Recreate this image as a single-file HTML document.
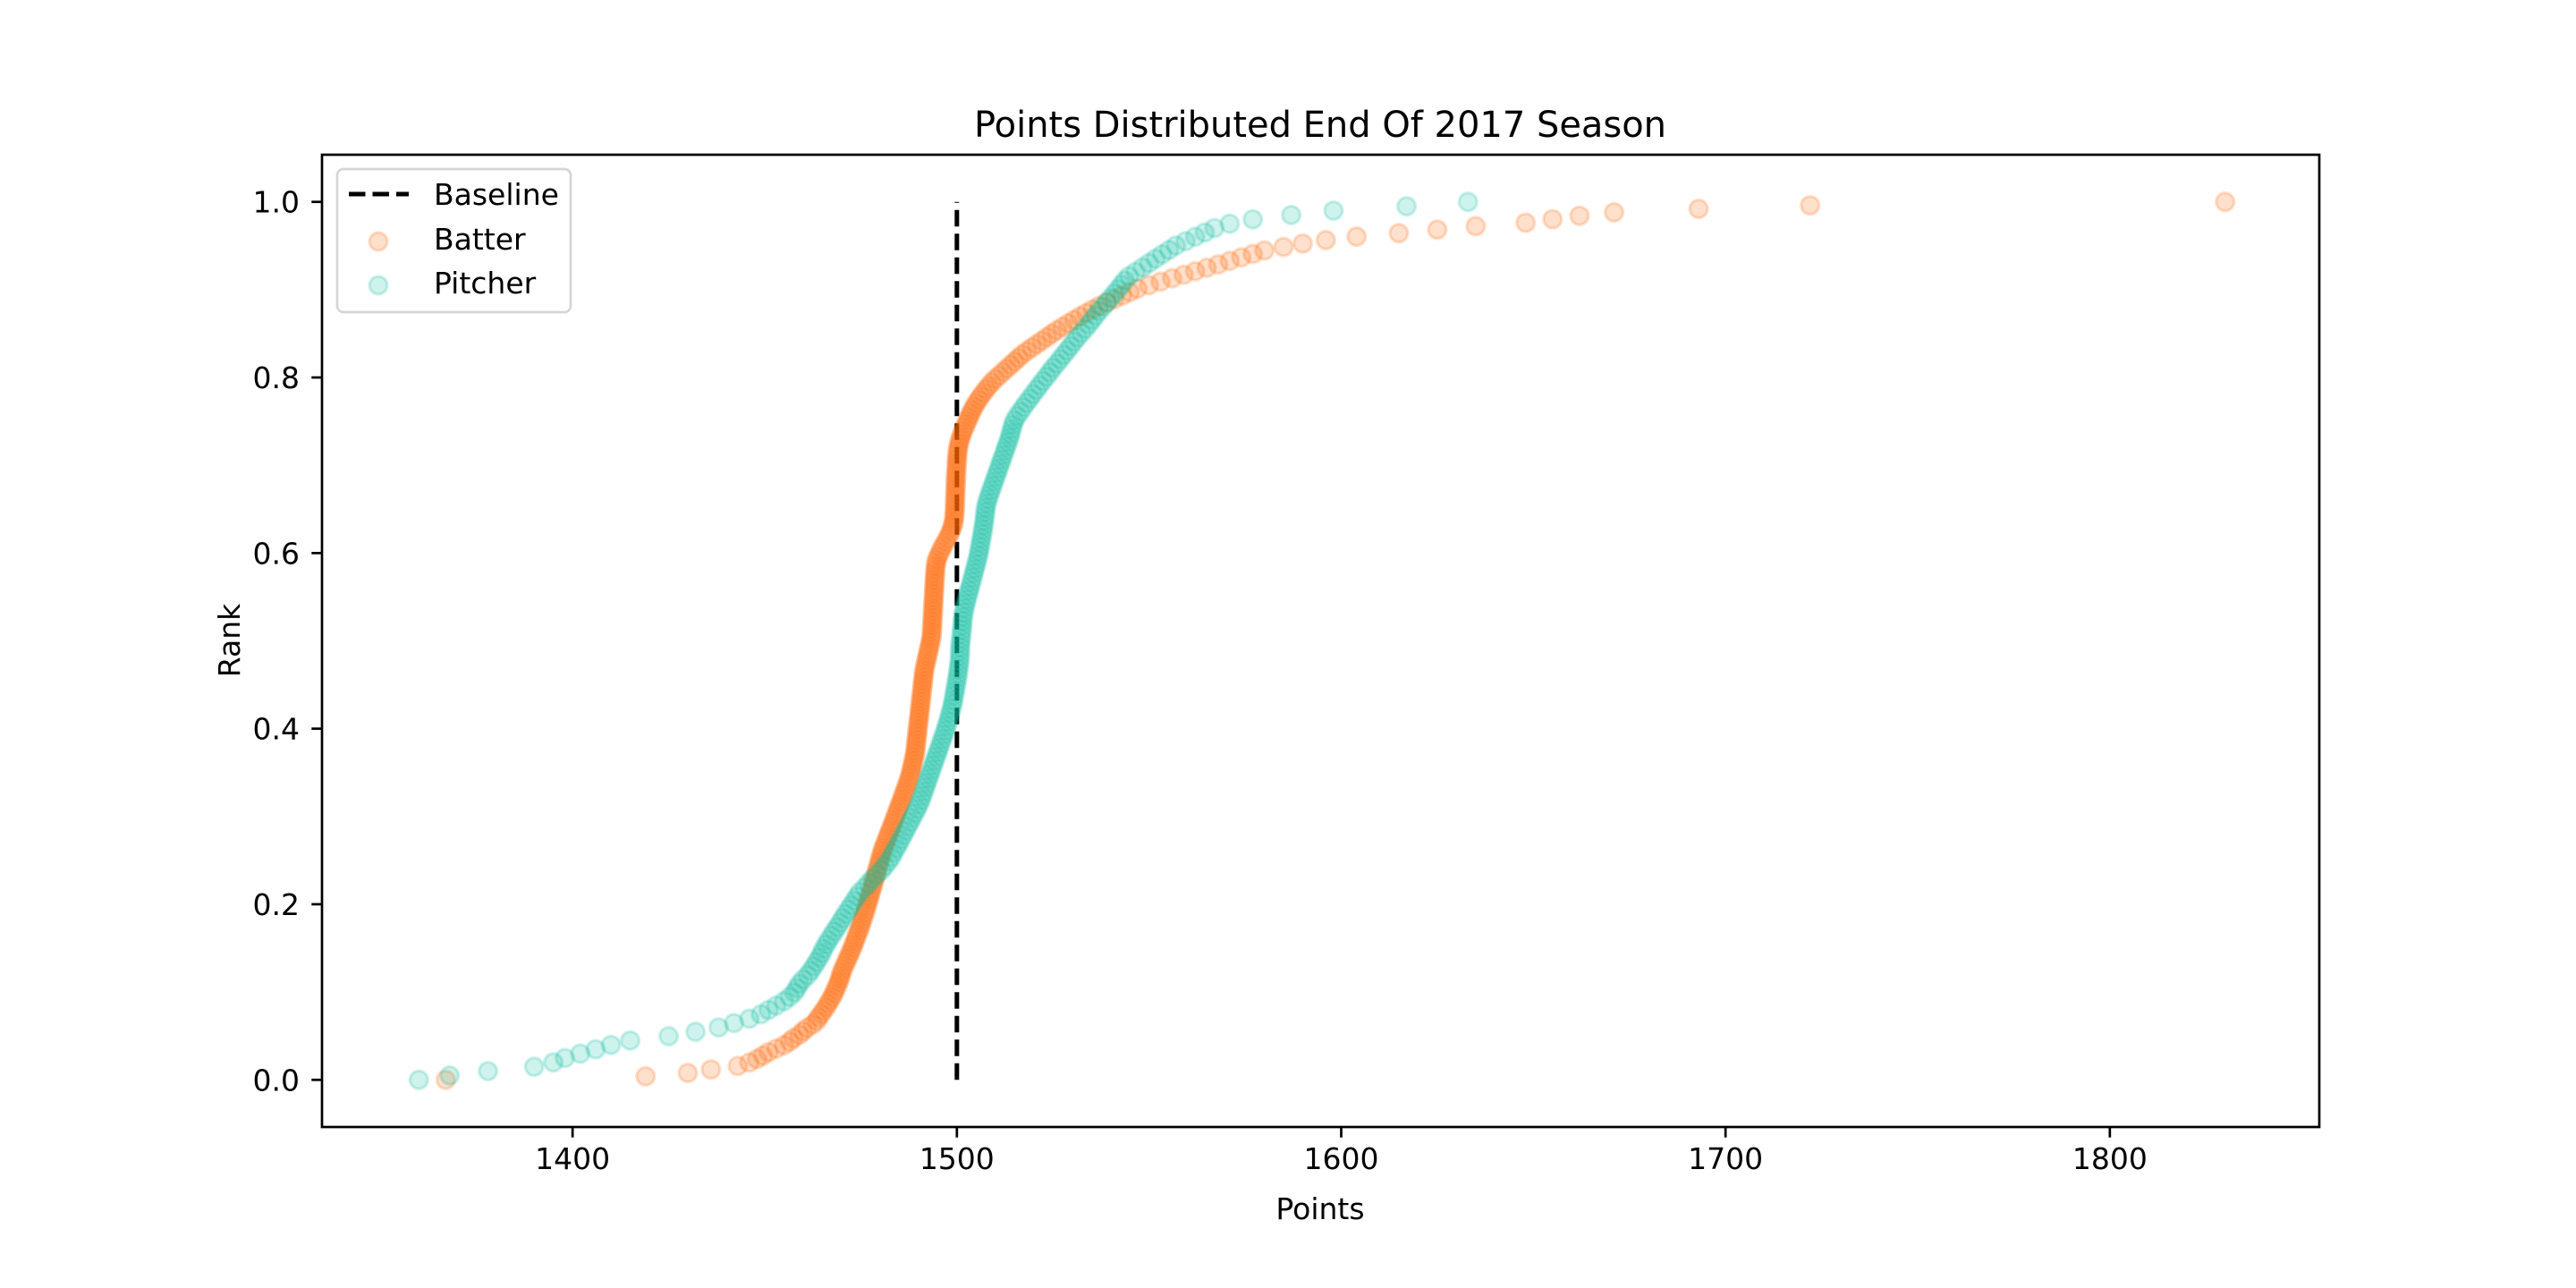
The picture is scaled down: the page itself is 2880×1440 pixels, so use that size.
<!DOCTYPE html>
<html><head><meta charset="utf-8"><style>
html,body{margin:0;padding:0;background:#fff;}
svg{display:block;font-family:"DejaVu Sans","Liberation Sans",sans-serif;}
</style></head><body>
<svg id="chart" width="2880" height="1440" viewBox="0 0 2880 1440" xmlns="http://www.w3.org/2000/svg">
<rect width="2880" height="1440" fill="#fff"/>
<text x="1476" y="153" font-size="40" text-anchor="middle" textLength="774" lengthAdjust="spacingAndGlyphs">Points Distributed End Of 2017 Season</text>
<g id="marks"></g>
<g id="axes"></g>
<text x="1476" y="1363" font-size="33" text-anchor="middle">Points</text>
<text x="0" y="0" font-size="33" text-anchor="middle" transform="translate(268,716) rotate(-90)">Rank</text>
<g>
<rect x="377" y="189" width="261" height="160" rx="7" fill="#fff" fill-opacity="0.8" stroke="#d6d6d6" stroke-width="2.7"/>
<line x1="390" y1="217" x2="457" y2="217" stroke="#000" stroke-width="5" stroke-dasharray="18.5,8"/>
<text x="485" y="229" font-size="33">Baseline</text>
<circle cx="423" cy="270" r="10" fill="#ff6600" fill-opacity="0.2" stroke="#ff6600" stroke-opacity="0.2" stroke-width="3.3"/>
<text x="485" y="279" font-size="33">Batter</text>
<circle cx="423" cy="319" r="10" fill="#0abf9f" fill-opacity="0.2" stroke="#0abf9f" stroke-opacity="0.2" stroke-width="3.3"/>
<text x="485" y="328" font-size="33">Pitcher</text>
</g>
</svg>
<script>
const xTicks = [1400, 1500, 1600, 1700, 1800];
const yTicks = [0.0, 0.2, 0.4, 0.6, 0.8, 1.0];
const yTickLabels = ["0.0", "0.2", "0.4", "0.6", "0.8", "1.0"];
const baselinePoints = 1500;
const batterPoints = [
1367,1419,1430,1436,1443,1446,1448,1449.5,1451,1453,1455,1456.5,1457.5,1459,1460,1461,1462.5,1463.5,1464,1464.7,1465.3,1466,1466.5,1467,1467.6,
1468,1468.4,1468.8,1469.2,1469.5,1469.8,1470,1470.4,1470.8,1471.2,1471.6,1472,1472.4,1472.8,1473.1,1473.5,1473.8,1474.1,1474.5,1474.8,1475.1,1475.4,1475.7,1476,1476.3,
1476.5,1476.8,1477.1,1477.3,1477.6,1477.9,1478.1,1478.4,1478.6,1478.9,1479.1,1479.4,1479.6,1479.9,1480.1,1480.4,1480.6,1480.9,1481.3,1481.6,1482,1482.3,1482.7,1483,1483.4,
1483.7,1484,1484.4,1484.7,1485,1485.4,1485.7,1486,1486.4,1486.7,1487,1487.3,1487.6,1487.9,1488.1,1488.3,1488.5,1488.7,1488.9,1489.1,1489.2,1489.3,1489.4,1489.5,1489.6,
1489.7,1489.8,1489.9,1490,1490.1,1490.2,1490.3,1490.4,1490.5,1490.6,1490.7,1490.8,1490.9,1491,1491.1,1491.2,1491.3,1491.4,1491.5,1491.7,1491.9,1492.1,1492.3,1492.5,1492.7,
1492.9,1493.1,1493.3,1493.4,1493.5,1493.5,1493.6,1493.6,1493.7,1493.7,1493.8,1493.8,1493.9,1493.9,1494,1494,1494.1,1494.1,1494.2,1494.2,1494.3,1494.3,1494.4,1494.5,1494.6,
1494.8,1495.2,1495.6,1496,1496.5,1497,1497.5,1498,1498.4,1498.7,1499,1499.2,1499.3,1499.4,1499.4,1499.5,1499.5,1499.5,1499.6,1499.6,1499.6,1499.7,1499.7,1499.7,1499.8,
1499.8,1499.9,1499.9,1500,1500,1500.1,1500.2,1500.3,1500.5,1500.7,1501,1501.3,1501.6,1502,1502.4,1502.8,1503.2,1503.6,1504,1504.5,1505,1505.6,1506.2,1506.9,1507.6,
1508.3,1509.1,1510,1511,1512,1513,1514,1515,1516,1517,1518.2,1519.5,1520.8,1522.1,1523.4,1524.7,1526,1527.5,1529,1530.5,1532,1533.6,1535.3,1537,1539,
1541,1543,1545,1547,1550,1553,1556,1559,1562,1565,1568,1571,1574,1577,1580,1585,1590,1596,1604,1615,1625,1635,1648,1655,1662,1671,1693,1722,1830
];
const pitcherPoints = [
1360,1368,1378,1390,1395,1398,1402,1406,1410,1415,1425,1432,1438,1442,1446,1449,1451,1453,1455,1456.5,
1457.7,1458.4,1459,1460,1461.2,1462,1462.8,1463.5,1464.2,1464.8,1465.3,1466,1466.6,1467.4,1468.1,1468.9,1469.6,1470.3,1471,1471.8,
1472.5,1473.3,1474,1474.8,1476,1477,1478,1479.2,1480.4,1481.3,1482.2,1483,1483.5,1484.2,1484.8,1485.4,1486,1486.6,1487.2,1487.8,
1488.4,1489,1489.6,1490.1,1490.6,1491,1491.4,1491.8,1492.2,1492.6,1493,1493.4,1493.8,1494.2,1494.6,1495,1495.4,1495.8,1496.2,1496.6,
1497,1497.3,1497.7,1498,1498.3,1498.6,1498.9,1499.1,1499.3,1499.5,1499.7,1499.9,1500.1,1500.3,1500.4,1500.6,1500.7,1500.8,1500.8,1500.9,
1500.9,1501.1,1501.2,1501.3,1501.4,1501.5,1501.6,1501.8,1502,1502.3,1502.6,1502.9,1503.2,1503.5,1503.8,1504.1,1504.4,1504.7,1505,1505.3,
1505.6,1505.8,1506,1506.2,1506.4,1506.6,1506.8,1507,1507.1,1507.3,1507.4,1507.5,1507.8,1508.1,1508.5,1508.9,1509.3,1509.7,1510.1,1510.5,
1510.9,1511.3,1511.7,1512.1,1512.5,1512.9,1513.3,1513.7,1514,1514.3,1514.6,1515,1515.7,1516.5,1517.3,1518.1,1519,1519.8,1520.7,1521.5,
1522.4,1523.3,1524.2,1525,1526,1526.9,1527.8,1528.7,1529.6,1530.5,1531.4,1532.4,1533.4,1534.4,1535.2,1536.1,1537,1538,1539,1540,
1541,1541.9,1542.8,1543.7,1544.8,1546.5,1548.3,1550,1551.7,1553.4,1555.2,1557,1559.5,1562,1564.5,1567,1571,1577,1587,1598,1617,1633
];

const L = 360, R = 2593, T = 173, B = 1260;
const xMin = 1334.8, xMax = 1854.5, yMin = -0.0537, yMax = 1.0537;
function xS(v){ return L + (v - xMin) / (xMax - xMin) * (R - L); }
function yS(v){ return B - (v - yMin) / (yMax - yMin) * (B - T); }
const NS = "http://www.w3.org/2000/svg";
const marks = document.getElementById('marks');
const axes = document.getElementById('axes');

function drawSeries(arr, color, name){
  const g = document.createElementNS(NS, 'g');
  
  
  const n = arr.length;
  arr.forEach((v, i) => {
    const c = document.createElementNS(NS, 'circle');
    c.setAttribute('cx', xS(v));
    c.setAttribute('cy', yS(i / (n - 1)));
    c.setAttribute('r', 10);
    c.setAttribute('fill', color);
    c.setAttribute('fill-opacity', 0.2);
    c.setAttribute('stroke', color);
    c.setAttribute('stroke-opacity', 0.2);
    c.setAttribute('stroke-width', 3.3);
    
    
    g.appendChild(c);
  });
  marks.appendChild(g);
}

const bl = document.createElementNS(NS, 'line');
bl.setAttribute('x1', xS(baselinePoints)); bl.setAttribute('x2', xS(baselinePoints));
bl.setAttribute('y1', yS(0)); bl.setAttribute('y2', yS(1));
bl.setAttribute('stroke', '#000'); bl.setAttribute('stroke-width', 5);
bl.setAttribute('stroke-dasharray', '18.5,8');


marks.appendChild(bl);

drawSeries(batterPoints, '#ff6600', 'batter');
drawSeries(pitcherPoints, '#0abf9f', 'pitcher');

const frame = document.createElementNS(NS, 'rect');
frame.setAttribute('x', L); frame.setAttribute('y', T);
frame.setAttribute('width', R - L); frame.setAttribute('height', B - T);
frame.setAttribute('fill', 'none'); frame.setAttribute('stroke', '#000'); frame.setAttribute('stroke-width', 2.7);


axes.appendChild(frame);

xTicks.forEach(t => {
  const x = xS(t);
  const ln = document.createElementNS(NS, 'line');
  ln.setAttribute('x1', x); ln.setAttribute('x2', x); ln.setAttribute('y1', B); ln.setAttribute('y2', B + 11.7);
  ln.setAttribute('stroke', '#000'); ln.setAttribute('stroke-width', 2.7);
  
  
  axes.appendChild(ln);
  const tx = document.createElementNS(NS, 'text');
  tx.setAttribute('x', x); tx.setAttribute('y', 1307); tx.setAttribute('font-size', 33); tx.setAttribute('text-anchor', 'middle');
  tx.textContent = String(t);
  
  
  axes.appendChild(tx);
});
yTicks.forEach((t, i) => {
  const y = yS(t);
  const ln = document.createElementNS(NS, 'line');
  ln.setAttribute('x1', L - 11.7); ln.setAttribute('x2', L); ln.setAttribute('y1', y); ln.setAttribute('y2', y);
  ln.setAttribute('stroke', '#000'); ln.setAttribute('stroke-width', 2.7);
  
  
  axes.appendChild(ln);
  const tx = document.createElementNS(NS, 'text');
  tx.setAttribute('x', 335); tx.setAttribute('y', y + 12); tx.setAttribute('font-size', 33); tx.setAttribute('text-anchor', 'end');
  tx.textContent = yTickLabels[i];
  
  
  axes.appendChild(tx);
});
</script>
</body></html>
